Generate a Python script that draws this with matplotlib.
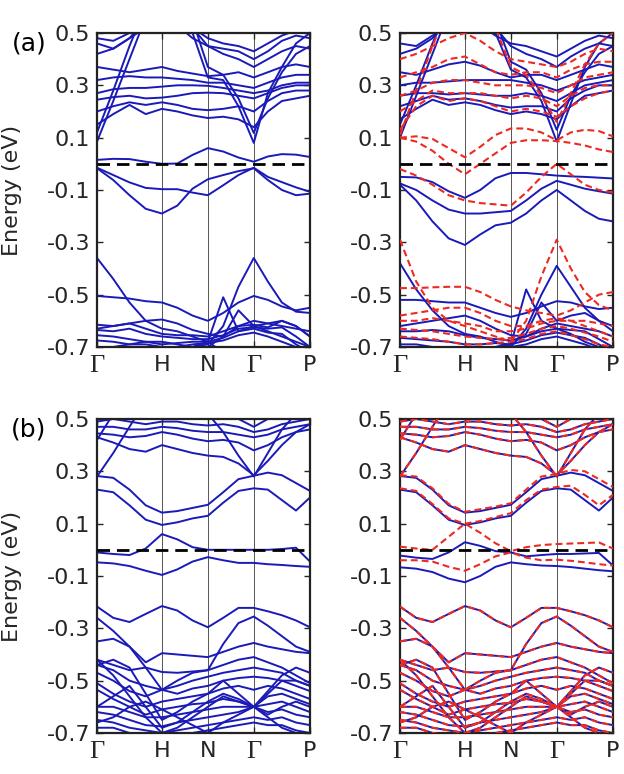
import matplotlib
matplotlib.use('Agg')
import matplotlib.pyplot as plt

# bcc high-symmetry path (units of 2*pi/a) and the k points where bands are tabulated
k_nodes = [0.0, 1.0, 1.707, 2.414, 3.280]
k_labels = ['Γ', 'H', 'N', 'Γ', 'P']
k_samples = [0.0, 0.25, 0.5, 0.75, 1.0, 1.236, 1.471, 1.707,
             1.943, 2.178, 2.414, 2.631, 2.847, 3.064, 3.280]
e_ticks = [-0.7, -0.5, -0.3, -0.1, 0.1, 0.3, 0.5]
e_fermi = 0.0

# ---- (a) left: bands, eV ----
a_left_blue = [
    # conduction
    [0.085, 0.24, 0.40, 0.56, 0.70, 0.66, 0.50, 0.33, 0.32, 0.22, 0.08, 0.27, 0.37, 0.46, 0.50],
    [0.12, 0.28, 0.45, 0.60, 0.75, 0.70, 0.55, 0.37, 0.34, 0.25, 0.118, 0.25, 0.35, 0.42, 0.45],
    [0.15, 0.19, 0.225, 0.19, 0.21, 0.20, 0.185, 0.175, 0.18, 0.17, 0.14, 0.20, 0.24, 0.25, 0.26],
    [0.20, 0.22, 0.235, 0.225, 0.235, 0.225, 0.21, 0.205, 0.21, 0.22, 0.20, 0.24, 0.27, 0.28, 0.28],
    [0.245, 0.255, 0.26, 0.25, 0.253, 0.26, 0.27, 0.272, 0.27, 0.26, 0.25, 0.27, 0.29, 0.30, 0.30],
    [0.27, 0.285, 0.29, 0.29, 0.295, 0.30, 0.30, 0.298, 0.29, 0.28, 0.27, 0.28, 0.30, 0.31, 0.31],
    [0.32, 0.33, 0.335, 0.33, 0.33, 0.325, 0.32, 0.31, 0.31, 0.30, 0.29, 0.31, 0.33, 0.34, 0.34],
    [0.37, 0.36, 0.35, 0.36, 0.37, 0.355, 0.345, 0.335, 0.34, 0.35, 0.33, 0.35, 0.37, 0.38, 0.37],
    [0.42, 0.44, 0.48, 0.55, 0.60, 0.58, 0.52, 0.45, 0.42, 0.40, 0.37, 0.40, 0.43, 0.45, 0.44],
    [0.46, 0.44, 0.48, 0.52, 0.56, 0.53, 0.48, 0.45, 0.44, 0.43, 0.40, 0.43, 0.47, 0.49, 0.48],
    [0.48, 0.47, 0.50, 0.56, 0.60, 0.57, 0.52, 0.48, 0.46, 0.45, 0.43, 0.46, 0.49, 0.51, 0.50],
    # around the Fermi level
    [0.015, 0.019, 0.018, 0.008, 0.0, 0.001, 0.034, 0.06, 0.047, 0.024, 0.008, 0.028, 0.037, 0.035, 0.026],
    [-0.015, -0.043, -0.071, -0.092, -0.097, -0.097, -0.11, -0.12, -0.082, -0.043, -0.015, -0.05, -0.07, -0.09, -0.107],
    [-0.017, -0.062, -0.12, -0.172, -0.19, -0.16, -0.095, -0.059, -0.043, -0.028, -0.017, -0.062, -0.10, -0.12, -0.114],
    # deeper valence
    [-0.36, -0.44, -0.53, -0.60, -0.63, -0.64, -0.66, -0.68, -0.72, -0.75, -0.75, -0.75, -0.75, -0.75, -0.75],
    [-0.505, -0.51, -0.515, -0.525, -0.53, -0.55, -0.58, -0.60, -0.57, -0.53, -0.505, -0.52, -0.545, -0.56, -0.55],
    [-0.72, -0.72, -0.72, -0.72, -0.72, -0.71, -0.70, -0.69, -0.62, -0.47, -0.36, -0.45, -0.53, -0.565, -0.57],
    [-0.63, -0.62, -0.61, -0.60, -0.595, -0.61, -0.635, -0.65, -0.66, -0.62, -0.60, -0.61, -0.62, -0.63, -0.64],
    [-0.75, -0.75, -0.75, -0.74, -0.72, -0.71, -0.70, -0.68, -0.51, -0.64, -0.62, -0.64, -0.66, -0.68, -0.70],
    [-0.70, -0.70, -0.69, -0.68, -0.68, -0.69, -0.70, -0.70, -0.66, -0.56, -0.62, -0.61, -0.60, -0.62, -0.66],
    [-0.615, -0.62, -0.61, -0.63, -0.65, -0.655, -0.655, -0.66, -0.64, -0.62, -0.615, -0.625, -0.60, -0.62, -0.66],
    [-0.635, -0.64, -0.63, -0.65, -0.66, -0.665, -0.67, -0.67, -0.655, -0.63, -0.625, -0.63, -0.625, -0.66, -0.70],
    [-0.655, -0.66, -0.67, -0.68, -0.69, -0.685, -0.68, -0.68, -0.665, -0.64, -0.63, -0.645, -0.65, -0.69, -0.72],
    [-0.675, -0.68, -0.69, -0.69, -0.70, -0.70, -0.69, -0.685, -0.675, -0.655, -0.645, -0.66, -0.68, -0.70, -0.72],
]

# ---- (a) right: blue solid and red dashed bands ----
a_right_blue = [
    [0.10, 0.26, 0.42, 0.58, 0.70, 0.66, 0.50, 0.36, 0.33, 0.24, 0.085, 0.23, 0.37, 0.46, 0.50],
    [0.15, 0.30, 0.46, 0.60, 0.75, 0.70, 0.55, 0.39, 0.36, 0.27, 0.13, 0.26, 0.35, 0.42, 0.45],
    [0.17, 0.21, 0.245, 0.225, 0.235, 0.225, 0.205, 0.19, 0.20, 0.19, 0.17, 0.22, 0.26, 0.27, 0.28],
    [0.22, 0.24, 0.26, 0.245, 0.25, 0.24, 0.225, 0.215, 0.22, 0.22, 0.20, 0.25, 0.28, 0.30, 0.30],
    [0.26, 0.27, 0.27, 0.265, 0.27, 0.265, 0.26, 0.26, 0.27, 0.26, 0.24, 0.27, 0.30, 0.31, 0.32],
    [0.30, 0.31, 0.31, 0.315, 0.32, 0.32, 0.32, 0.32, 0.31, 0.30, 0.28, 0.30, 0.32, 0.33, 0.34],
    [0.35, 0.34, 0.36, 0.38, 0.39, 0.375, 0.35, 0.33, 0.34, 0.34, 0.32, 0.34, 0.36, 0.38, 0.37],
    [0.42, 0.44, 0.48, 0.55, 0.60, 0.58, 0.52, 0.45, 0.42, 0.40, 0.37, 0.41, 0.44, 0.46, 0.45],
    [0.46, 0.45, 0.49, 0.52, 0.56, 0.53, 0.49, 0.46, 0.45, 0.43, 0.41, 0.44, 0.47, 0.49, 0.48],
    [-0.05, -0.052, -0.07, -0.105, -0.13, -0.10, -0.055, -0.035, -0.035, -0.04, -0.045, -0.048, -0.05, -0.053, -0.056],
    [-0.075, -0.10, -0.14, -0.175, -0.19, -0.19, -0.185, -0.18, -0.14, -0.095, -0.065, -0.08, -0.095, -0.105, -0.114],
    [-0.08, -0.14, -0.22, -0.285, -0.31, -0.27, -0.235, -0.225, -0.19, -0.14, -0.10, -0.14, -0.18, -0.21, -0.22],
    [-0.38, -0.48, -0.56, -0.62, -0.65, -0.66, -0.68, -0.70, -0.72, -0.75, -0.75, -0.75, -0.75, -0.75, -0.75],
    [-0.52, -0.52, -0.525, -0.53, -0.53, -0.55, -0.57, -0.585, -0.57, -0.545, -0.525, -0.53, -0.545, -0.555, -0.55],
    [-0.72, -0.72, -0.72, -0.72, -0.72, -0.72, -0.71, -0.70, -0.63, -0.50, -0.39, -0.47, -0.55, -0.60, -0.62],
    [-0.62, -0.61, -0.60, -0.59, -0.58, -0.60, -0.63, -0.655, -0.66, -0.63, -0.61, -0.62, -0.63, -0.64, -0.66],
    [-0.75, -0.75, -0.74, -0.73, -0.72, -0.71, -0.70, -0.69, -0.48, -0.60, -0.63, -0.65, -0.68, -0.70, -0.72],
    [-0.72, -0.71, -0.70, -0.70, -0.70, -0.70, -0.70, -0.69, -0.65, -0.53, -0.60, -0.58, -0.57, -0.60, -0.64],
    [-0.64, -0.64, -0.635, -0.64, -0.655, -0.665, -0.67, -0.675, -0.66, -0.64, -0.63, -0.635, -0.64, -0.67, -0.70],
    [-0.665, -0.67, -0.675, -0.68, -0.69, -0.69, -0.685, -0.69, -0.675, -0.655, -0.645, -0.655, -0.665, -0.69, -0.72],
    [-0.69, -0.69, -0.70, -0.71, -0.72, -0.71, -0.70, -0.70, -0.69, -0.67, -0.66, -0.675, -0.69, -0.71, -0.73],
]

a_right_red = [
    [0.11, 0.28, 0.45, 0.60, 0.72, 0.68, 0.52, 0.37, 0.34, 0.26, 0.16, 0.27, 0.38, 0.46, 0.50],
    [0.13, 0.22, 0.26, 0.24, 0.25, 0.24, 0.22, 0.20, 0.21, 0.20, 0.18, 0.22, 0.25, 0.27, 0.28],
    [0.20, 0.24, 0.28, 0.27, 0.27, 0.27, 0.26, 0.25, 0.26, 0.25, 0.22, 0.26, 0.29, 0.30, 0.30],
    [0.26, 0.28, 0.31, 0.32, 0.32, 0.31, 0.30, 0.30, 0.30, 0.29, 0.27, 0.30, 0.33, 0.34, 0.35],
    [0.33, 0.35, 0.37, 0.40, 0.41, 0.38, 0.35, 0.34, 0.35, 0.35, 0.33, 0.36, 0.38, 0.39, 0.39],
    [0.40, 0.42, 0.45, 0.48, 0.50, 0.47, 0.43, 0.40, 0.39, 0.38, 0.37, 0.39, 0.42, 0.44, 0.43],
    [0.10, 0.105, 0.095, 0.06, 0.025, 0.065, 0.11, 0.135, 0.135, 0.12, 0.09, 0.12, 0.13, 0.125, 0.105],
    [0.10, 0.085, 0.05, 0.0, -0.04, 0.0, 0.04, 0.08, 0.09, 0.09, 0.087, 0.08, 0.07, 0.055, 0.045],
    [-0.02, -0.045, -0.08, -0.12, -0.14, -0.15, -0.155, -0.16, -0.11, -0.05, 0.0, -0.04, -0.08, -0.10, -0.11],
    [-0.29, -0.45, -0.55, -0.60, -0.62, -0.64, -0.66, -0.68, -0.60, -0.43, -0.29, -0.40, -0.49, -0.54, -0.56],
    [-0.475, -0.475, -0.472, -0.47, -0.47, -0.49, -0.52, -0.545, -0.56, -0.57, -0.58, -0.56, -0.53, -0.50, -0.49],
    [-0.58, -0.57, -0.56, -0.55, -0.55, -0.57, -0.60, -0.62, -0.62, -0.60, -0.59, -0.60, -0.60, -0.61, -0.62],
    [-0.60, -0.60, -0.59, -0.60, -0.61, -0.62, -0.64, -0.64, -0.63, -0.61, -0.60, -0.60, -0.62, -0.64, -0.66],
    [-0.63, -0.635, -0.64, -0.65, -0.66, -0.665, -0.67, -0.665, -0.65, -0.63, -0.62, -0.63, -0.645, -0.66, -0.68],
    [-0.66, -0.665, -0.67, -0.68, -0.69, -0.69, -0.685, -0.68, -0.67, -0.65, -0.64, -0.655, -0.67, -0.69, -0.70],
]

# ---- (b): shared conduction and valence manifolds ----
b_cond_high = [
    [0.43, 0.41, 0.385, 0.375, 0.40, 0.385, 0.37, 0.36, 0.355, 0.33, 0.285, 0.34, 0.40, 0.45, 0.48],
    [0.445, 0.44, 0.43, 0.435, 0.45, 0.44, 0.425, 0.415, 0.42, 0.41, 0.38, 0.40, 0.43, 0.45, 0.46],
    [0.47, 0.47, 0.46, 0.46, 0.47, 0.465, 0.455, 0.45, 0.45, 0.44, 0.43, 0.44, 0.46, 0.47, 0.48],
    [0.49, 0.50, 0.49, 0.48, 0.49, 0.49, 0.48, 0.475, 0.48, 0.47, 0.45, 0.46, 0.48, 0.49, 0.50],
    [0.28, 0.37, 0.47, 0.57, 0.66, 0.60, 0.55, 0.52, 0.45, 0.36, 0.28, 0.37, 0.46, 0.52, 0.55],
    [0.42, 0.52, 0.60, 0.65, 0.65, 0.60, 0.58, 0.55, 0.52, 0.50, 0.47, 0.50, 0.55, 0.60, 0.60],
]
b_cond_low = [
    [0.282, 0.275, 0.23, 0.17, 0.142, 0.148, 0.16, 0.172, 0.22, 0.27, 0.283, 0.295, 0.285, 0.255, 0.225],
    [0.23, 0.22, 0.17, 0.115, 0.095, 0.105, 0.12, 0.13, 0.18, 0.225, 0.235, 0.23, 0.19, 0.15, 0.20],
]
b_cond_low_red = [
    [0.285, 0.28, 0.235, 0.175, 0.145, 0.155, 0.165, 0.178, 0.23, 0.28, 0.29, 0.305, 0.30, 0.27, 0.24],
    [0.235, 0.225, 0.175, 0.12, 0.10, 0.11, 0.125, 0.14, 0.19, 0.23, 0.24, 0.245, 0.21, 0.17, 0.21],
]
b_fermi_left = [
    [-0.01, -0.016, -0.02, 0.005, 0.06, 0.04, 0.01, 0.0, 0.0, 0.0, 0.0, 0.0, 0.003, 0.008, -0.045],
    [-0.048, -0.052, -0.062, -0.08, -0.096, -0.075, -0.045, -0.028, -0.04, -0.05, -0.05, -0.055, -0.058, -0.062, -0.065],
]
b_fermi_right = [
    [-0.022, -0.03, -0.035, -0.01, 0.029, 0.015, -0.005, -0.01, -0.025, -0.02, -0.016, -0.016, -0.014, -0.012, -0.06],
    [-0.067, -0.072, -0.085, -0.11, -0.124, -0.10, -0.065, -0.048, -0.055, -0.06, -0.062, -0.066, -0.072, -0.078, -0.082],
]
b_fermi_red = [
    [0.012, 0.005, 0.0, 0.05, 0.10, 0.065, 0.025, -0.005, 0.01, 0.018, 0.022, 0.024, 0.026, 0.028, 0.005],
    [-0.04, -0.04, -0.045, -0.065, -0.08, -0.055, -0.025, -0.01, -0.03, -0.04, -0.038, -0.042, -0.048, -0.055, -0.06],
]
b_val = [
    [-0.217, -0.26, -0.276, -0.245, -0.215, -0.232, -0.27, -0.296, -0.26, -0.222, -0.222, -0.235, -0.25, -0.27, -0.296],
    [-0.26, -0.31, -0.37, -0.45, -0.535, -0.50, -0.47, -0.46, -0.36, -0.28, -0.255, -0.29, -0.33, -0.37, -0.39],
    [-0.35, -0.34, -0.37, -0.43, -0.395, -0.40, -0.405, -0.41, -0.39, -0.37, -0.356, -0.37, -0.38, -0.39, -0.395],
    [-0.42, -0.44, -0.46, -0.45, -0.467, -0.47, -0.465, -0.46, -0.44, -0.42, -0.41, -0.43, -0.45, -0.48, -0.51],
    [-0.44, -0.46, -0.50, -0.52, -0.535, -0.52, -0.50, -0.485, -0.47, -0.46, -0.45, -0.46, -0.47, -0.50, -0.52],
    [-0.47, -0.50, -0.54, -0.56, -0.535, -0.55, -0.53, -0.52, -0.50, -0.49, -0.485, -0.49, -0.50, -0.52, -0.54],
    [-0.51, -0.55, -0.58, -0.60, -0.58, -0.57, -0.56, -0.55, -0.53, -0.52, -0.535, -0.52, -0.53, -0.55, -0.57],
    [-0.535, -0.57, -0.60, -0.63, -0.61, -0.60, -0.59, -0.585, -0.57, -0.58, -0.60, -0.56, -0.55, -0.57, -0.59],
    [-0.60, -0.60, -0.62, -0.64, -0.64, -0.63, -0.62, -0.61, -0.60, -0.60, -0.60, -0.59, -0.58, -0.60, -0.62],
    [-0.62, -0.63, -0.65, -0.67, -0.675, -0.66, -0.65, -0.64, -0.63, -0.62, -0.60, -0.62, -0.61, -0.63, -0.64],
    [-0.65, -0.66, -0.68, -0.69, -0.70, -0.69, -0.68, -0.67, -0.66, -0.65, -0.64, -0.65, -0.64, -0.66, -0.67],
    [-0.68, -0.68, -0.70, -0.71, -0.72, -0.71, -0.70, -0.69, -0.68, -0.67, -0.66, -0.67, -0.67, -0.69, -0.70],
    [-0.42, -0.48, -0.56, -0.64, -0.70, -0.68, -0.64, -0.60, -0.56, -0.58, -0.60, -0.55, -0.50, -0.50, -0.52],
    [-0.44, -0.42, -0.45, -0.55, -0.65, -0.62, -0.58, -0.55, -0.50, -0.55, -0.60, -0.54, -0.48, -0.45, -0.47],
    [-0.60, -0.56, -0.52, -0.60, -0.68, -0.66, -0.62, -0.58, -0.55, -0.57, -0.60, -0.63, -0.60, -0.58, -0.60],
    [-0.66, -0.64, -0.60, -0.58, -0.61, -0.64, -0.67, -0.70, -0.66, -0.63, -0.60, -0.64, -0.68, -0.70, -0.72],
]

blue = '#1a1ab8'
red = '#ec2a22'
tick_color = '#262626'


def draw_panel(ax, blue_bands, red_bands=None, show_ylabel=False, tag=None):
    for e in blue_bands:
        ax.plot(k_samples, e, color=blue, lw=1.4, solid_joinstyle='round', zorder=2)
    if red_bands is not None:
        for e in red_bands:
            ax.plot(k_samples, e, color=red, lw=1.5, ls=(0, (3.3, 1.9)), zorder=3)
    for k in k_nodes[1:-1]:
        ax.axvline(k, color='#555555', lw=0.7, zorder=1)
    ax.axhline(e_fermi, color='k', lw=2.0, ls=(0, (4.5, 2.5)), zorder=4)

    ax.set_xlim(k_nodes[0], k_nodes[-1])
    ax.set_ylim(-0.7, 0.5)
    ax.set_yticks(e_ticks)
    ax.set_yticklabels([f'{v:.1f}' for v in e_ticks])
    ax.set_xticks(k_nodes)
    ax.set_xticklabels(k_labels)
    ax.tick_params(direction='in', length=4, width=1.0, top=True, right=True,
                   labelsize=16, colors=tick_color, pad=5)
    ax.tick_params(axis='x', pad=6)
    for lbl in ax.get_xticklabels():
        if lbl.get_text() == 'Γ':
            lbl.set_family('Liberation Serif')
            lbl.set_fontsize(19)
    for s in ax.spines.values():
        s.set_linewidth(1.6)
        s.set_color('#222222')
    if show_ylabel:
        ax.set_ylabel('Energy (eV)', fontsize=16, color=tick_color)
        ax.yaxis.set_label_coords(-0.35, 0.5)
    if tag:
        ax.text(-0.32, 0.968, tag, transform=ax.transAxes, fontsize=18,
                ha='center', va='center', color='black')


fig = plt.figure(figsize=(6.24, 7.74), dpi=100)
ax_al = fig.add_axes([0.1555, 0.5517, 0.3413, 0.4057])
ax_ar = fig.add_axes([0.641, 0.5517, 0.3413, 0.4057])
ax_bl = fig.add_axes([0.1555, 0.0530, 0.3413, 0.4057])
ax_br = fig.add_axes([0.641, 0.0530, 0.3413, 0.4057])

draw_panel(ax_al, a_left_blue, show_ylabel=True, tag='(a)')
draw_panel(ax_ar, a_right_blue, a_right_red)
draw_panel(ax_bl, b_cond_high + b_cond_low + b_fermi_left + b_val,
           show_ylabel=True, tag='(b)')
draw_panel(ax_br, b_cond_high + b_cond_low + b_fermi_right + b_val,
           b_cond_high + b_cond_low_red + b_fermi_red + b_val)

fig.savefig('out.png', dpi=100)
